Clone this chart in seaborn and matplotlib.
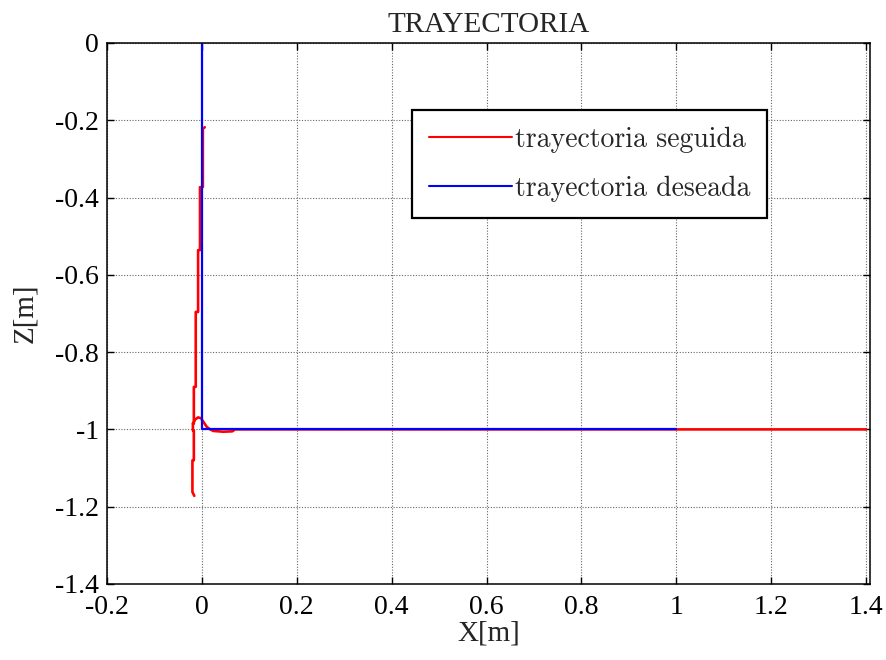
import numpy as np
import pandas as pd
import matplotlib
matplotlib.use("Agg")
import matplotlib.pyplot as plt
import seaborn as sns
from matplotlib.lines import Line2D

# Followed trajectory (red): staircase descent near x=0, then overshoot and settle on z=-1
red_seg1_x = [0.006, 0.002, 0.002, -0.004, -0.004, -0.008, -0.008, -0.013, -0.013,
              -0.017, -0.017, -0.019, -0.019, -0.017, -0.017, -0.020, -0.020, -0.016]
red_seg1_z = [-0.218, -0.222, -0.373, -0.373, -0.536, -0.536, -0.696, -0.696, -0.890,
              -0.890, -0.985, -0.985, -1.003, -1.003, -1.080, -1.080, -1.162, -1.172]
red_seg2_x = [-0.019, -0.014, -0.008, -0.002, 0.004, 0.010, 0.016, 0.024, 0.045, 0.064, 0.070, 0.400, 0.800, 1.000, 1.400]
red_seg2_z = [-0.985, -0.974, -0.969, -0.971, -0.982, -0.993, -0.999, -1.004, -1.006, -1.005, -1.000, -1.000, -1.000, -1.000, -1.000]

# Desired trajectory (blue)
blue_x = [0.0, 0.0, 1.0]
blue_z = [0.0, -1.0, -1.0]

x_ticks = [-0.2, 0, 0.2, 0.4, 0.6, 0.8, 1, 1.2, 1.4]
z_ticks = [0, -0.2, -0.4, -0.6, -0.8, -1, -1.2, -1.4]

red_df = pd.concat([
    pd.DataFrame({"x": red_seg1_x, "z": red_seg1_z, "seg": 1}),
    pd.DataFrame({"x": red_seg2_x, "z": red_seg2_z, "seg": 2}),
], ignore_index=True)
blue_df = pd.DataFrame({"x": blue_x, "z": blue_z, "seg": 1})

sns.set_style("ticks")
plt.rcParams["font.family"] = ["Liberation Serif", "DejaVu Serif"]
plt.rcParams["axes.unicode_minus"] = False

fig = plt.figure(figsize=(8.86, 6.6), dpi=100)
ax = fig.add_axes([0.1208, 0.1152, 0.861, 0.8197])

sns.lineplot(data=red_df, x="x", y="z", units="seg", estimator=None, sort=False,
             color="#ff0000", linewidth=1.9, ax=ax)
sns.lineplot(data=blue_df, x="x", y="z", units="seg", estimator=None, sort=False,
             color="#0000ff", linewidth=1.6, ax=ax)

ax.set_xlim(-0.2, 1.408)
ax.set_ylim(-1.4, 0)
ax.set_xticks(x_ticks)
ax.set_xticklabels([f"{v:g}" for v in x_ticks])
ax.set_yticks(z_ticks)
ax.set_yticklabels([f"{v:g}" for v in z_ticks])

ax.grid(True, color="0.4", linestyle=(0, (1, 1.5)), linewidth=0.8)
ax.tick_params(direction="in", length=5, width=1, top=True, right=True,
               labelsize=20, colors="black")
ax.tick_params(axis="x", pad=8)
ax.tick_params(axis="y", pad=6)
for s in ax.spines.values():
    s.set_color("black")
    s.set_linewidth(1.1)

ax.set_title("TRAYECTORIA", fontsize=21, pad=8)
ax.set_xlabel("X[m]", fontsize=21, labelpad=0)
ax.set_ylabel("Z[m]", fontsize=21, labelpad=12)

handles = [Line2D([], [], color="#ff0000", lw=1.5), Line2D([], [], color="#0000ff", lw=1.5)]
leg = ax.legend(handles, ["trayectoria seguida", "trayectoria deseada"],
                loc="upper left", bbox_to_anchor=(0.40, 0.876), borderaxespad=0,
                prop={"family": "cmr10", "size": 20}, frameon=True, fancybox=False,
                framealpha=1, edgecolor="black", handlelength=3.0, handletextpad=0.1,
                labelspacing=0.8, borderpad=0.6)
leg.get_frame().set_linewidth(1.6)

fig.savefig("out.png", dpi=100, facecolor="white")
